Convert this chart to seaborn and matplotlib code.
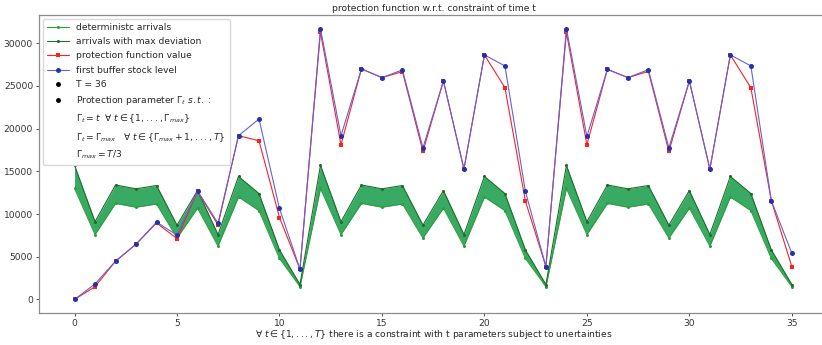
import numpy as np
import matplotlib
matplotlib.use('Agg')
import matplotlib.pyplot as plt
from matplotlib.lines import Line2D
import seaborn as sns

FONT_SIZE = 6.6

# time steps
t = list(range(36))

# deterministic arrivals (lower edge of band)
det_arrivals = [13000, 7600, 11250, 10800, 11180, 7200, 10700, 6250, 12000, 10400, 4800, 1500,
                13000, 7600, 11250, 10800, 11180, 7200, 10700, 6250, 12000, 10400, 4800, 1500,
                13000, 7600, 11250, 10800, 11180, 7200, 10700, 6250, 12000, 10400, 4800, 1500]

# arrivals with max deviation (upper edge of band)
max_arrivals = [15700, 9100, 13400, 12950, 13340, 8700, 12750, 7600, 14400, 12400, 5800, 1750,
                15700, 9100, 13400, 12950, 13340, 8700, 12750, 7600, 14400, 12400, 5800, 1750,
                15700, 9100, 13400, 12950, 13340, 8700, 12750, 7600, 14400, 12400, 5800, 1750]

# protection function value
protection = [0, 1500, 4480, 6470, 8950, 7130, 12650, 8730, 19170, 18580, 9590, 3540,
              31280, 18110, 26990, 25970, 26670, 17330, 25580, 15260, 28630, 24790, 11510, 3850,
              31280, 18110, 26940, 25970, 26700, 17330, 25580, 15260, 28630, 24790, 11550, 3850]

# first buffer stock level
stock = [0, 1820, 4480, 6470, 9050, 7530, 12720, 8930, 19170, 21120, 10650, 3540,
         31710, 19170, 26990, 25970, 26870, 17760, 25580, 15260, 28630, 27340, 12640, 3850,
         31710, 19090, 26940, 25970, 26900, 17760, 25580, 15260, 28630, 27340, 11550, 5410]

x_ticks = [0, 5, 10, 15, 20, 25, 30, 35]
y_ticks = [0, 5000, 10000, 15000, 20000, 25000, 30000]

sns.set_style('white')
plt.rcParams['font.family'] = ['DejaVu Sans']
plt.rcParams['axes.edgecolor'] = '0.55'

fig = plt.figure(figsize=(8.22, 3.45), dpi=100)
ax = fig.add_axes([39.3/822, 32/345, (827.7-39.3)/822, 298/345])

ax.fill_between(t, det_arrivals, max_arrivals, color='#2ea65c', alpha=0.95, linewidth=0)
sns.lineplot(x=t, y=det_arrivals, ax=ax, color='#2f9e3f', marker='o', markersize=2.2,
             markeredgewidth=0, linewidth=0.8, label='deterministc arrivals')
sns.lineplot(x=t, y=max_arrivals, ax=ax, color='#1d6e28', marker='o', markersize=2.2,
             markeredgewidth=0, linewidth=0.8, label='arrivals with max deviation')
sns.lineplot(x=t, y=protection, ax=ax, color='#ff2020', marker='s', markersize=3.2,
             markeredgewidth=0, linewidth=0.8, label='protection function value')
sns.lineplot(x=t, y=stock, ax=ax, color='#6262dc', marker='o', markersize=3.6,
             markeredgewidth=0, markerfacecolor='#2233aa', linewidth=0.8,
             label='first buffer stock level')

ax.set_xticks(x_ticks)
ax.set_yticks(y_ticks)
ax.tick_params(axis='both', labelsize=FONT_SIZE, length=2.5, width=0.6, colors='0.2',
               direction='out', left=True, bottom=True, pad=2)
for sp in ax.spines.values():
    sp.set_linewidth(0.9)

ax.set_xlim(-1.72, 36.75)
ax.set_ylim(-1585, 33300)

ax.set_title('protection function w.r.t. constraint of time t', size=FONT_SIZE, pad=3)
ax.set_xlabel(r'$\forall\ t \in \{1,...,T\}$ there is a constraint with t parameters subject to unertainties',
              size=FONT_SIZE, labelpad=0)
ax.set_ylabel('')

handles, labels = ax.get_legend_handles_labels()
dot = dict(color='k', marker='o', linestyle='none', markersize=2.5)
extra = [
    (Line2D([], [], **dot), 'T = 36'),
    (Line2D([], [], **dot), r'Protection parameter $\Gamma_t$ $s.t.$ :'),
    (Line2D([], [], linestyle='none'), r'$\Gamma_t = t\ \ \forall\ t \in \{1,...,\Gamma_{max}\}$'),
    (Line2D([], [], linestyle='none'), r'$\Gamma_t = \Gamma_{max}\ \ \ \forall\ t \in \{\Gamma_{max}+1,...,T\}$'),
    (Line2D([], [], linestyle='none'), r'$\Gamma_{max} = T/3$'),
]
for h, l in extra:
    handles.append(h)
    labels.append(l)

ax.legend(handles, labels, loc='upper left', fontsize=FONT_SIZE, frameon=True,
          framealpha=1.0, edgecolor='0.85', fancybox=True, labelspacing=0.58,
          handlelength=2.4, borderaxespad=0.4, borderpad=0.45)

plt.savefig('out.png', dpi=100)
plt.close()
